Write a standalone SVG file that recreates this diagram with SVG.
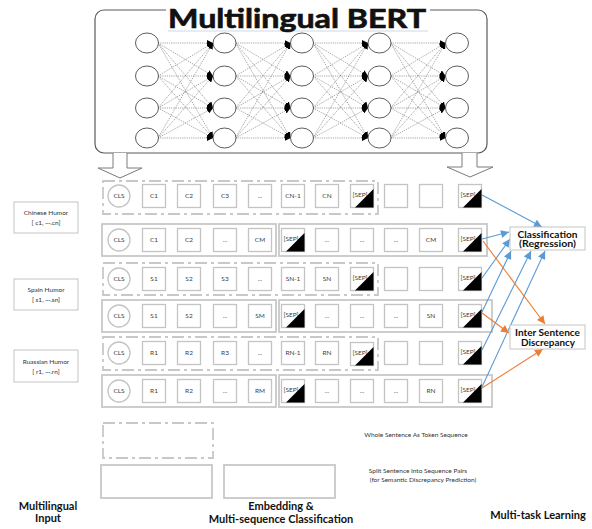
<svg xmlns="http://www.w3.org/2000/svg" xmlns:xlink="http://www.w3.org/1999/xlink" width="592" height="529" viewBox="0 0 592 529">
<style>
.tok{fill:#fff;stroke:#c4c4c4;stroke-width:1.3}
.cls{fill:#fff;stroke:#c4c4c4;stroke-width:1.3}
.tt{font-family:Lato,"Liberation Sans",sans-serif;font-size:6.5px;fill:#404040;text-anchor:middle}
.st{font-family:Lato,"Liberation Sans",sans-serif;font-size:6.5px;fill:#404040}
.dash{fill:none;stroke:#c8c8c8;stroke-width:1.8;stroke-dasharray:12,4,3,4}
.solid{fill:none;stroke:#c8c8c8;stroke-width:1.8}
.lbl{fill:#fff;stroke:#c4c4c4;stroke-width:1}
.lt{font-family:Lato,"Liberation Sans",sans-serif;font-size:6.5px;fill:#333;text-anchor:middle}
.bold{font-family:Lato,"Liberation Sans",sans-serif;font-weight:bold;fill:#111;text-anchor:middle}
.neuron{fill:#fff;stroke:#333;stroke-width:0.8}
.nn{stroke:#6a6a6a;stroke-width:0.6;stroke-dasharray:1.2,1;marker-end:url(#ah)}
.blue{stroke:#5b9bd5;stroke-width:1.1;fill:none;marker-end:url(#ab)}
.orange{stroke:#ed7d31;stroke-width:1.1;fill:none;marker-end:url(#ao)}
.sep{fill:#000}
.note{font-family:Lato,"Liberation Sans",sans-serif;font-size:6.5px;fill:#333;text-anchor:middle}
</style>
<defs>
<marker id="ah" viewBox="0 0 10 10" refX="10" refY="5" markerWidth="6" markerHeight="6" orient="auto" markerUnits="userSpaceOnUse"><path d="M0,0 L10,5 L0,10 z" fill="#000"/></marker>
<marker id="ab" viewBox="0 0 10 10" refX="10" refY="5" markerWidth="9" markerHeight="8" orient="auto" markerUnits="userSpaceOnUse"><path d="M0,0 L10,5 L0,10 z" fill="#5b9bd5"/></marker>
<marker id="ao" viewBox="0 0 10 10" refX="10" refY="5" markerWidth="9" markerHeight="8" orient="auto" markerUnits="userSpaceOnUse"><path d="M0,0 L10,5 L0,10 z" fill="#ed7d31"/></marker>
<rect id="box" x="-11.5" y="-11.5" width="23" height="23" class="tok"/>
<g id="layer">
<line class="nn" x1="158" y1="43" x2="213" y2="43"/><line class="nn" x1="158" y1="43" x2="213" y2="76"/><line class="nn" x1="158" y1="43" x2="213" y2="108"/><line class="nn" x1="158" y1="43" x2="213" y2="138"/>
<line class="nn" x1="158" y1="76" x2="213" y2="43"/><line class="nn" x1="158" y1="76" x2="213" y2="76"/><line class="nn" x1="158" y1="76" x2="213" y2="108"/><line class="nn" x1="158" y1="76" x2="213" y2="138"/>
<line class="nn" x1="158" y1="108" x2="213" y2="43"/><line class="nn" x1="158" y1="108" x2="213" y2="76"/><line class="nn" x1="158" y1="108" x2="213" y2="108"/><line class="nn" x1="158" y1="108" x2="213" y2="138"/>
<line class="nn" x1="158" y1="138" x2="213" y2="43"/><line class="nn" x1="158" y1="138" x2="213" y2="76"/><line class="nn" x1="158" y1="138" x2="213" y2="108"/><line class="nn" x1="158" y1="138" x2="213" y2="138"/>
</g>
<g id="ncol">
<ellipse class="neuron" cx="147" cy="43" rx="11.5" ry="10"/><ellipse class="neuron" cx="147" cy="76" rx="11.5" ry="10"/><ellipse class="neuron" cx="147" cy="108" rx="11.5" ry="10"/><ellipse class="neuron" cx="147" cy="138" rx="11.5" ry="10"/>
</g>
</defs>
<rect width="592" height="529" fill="#fff"/>

<g id="bert">
<rect x="95" y="10" width="392" height="143" rx="9" fill="#fff" stroke="#5a5a5a" stroke-width="1.2"/>
<use xlink:href="#layer"/>
<use xlink:href="#layer" transform="translate(77.5,0)"/>
<use xlink:href="#layer" transform="translate(155,0)"/>
<use xlink:href="#layer" transform="translate(232.5,0)"/>
<use xlink:href="#ncol"/>
<use xlink:href="#ncol" transform="translate(77.5,0)"/>
<use xlink:href="#ncol" transform="translate(155,0)"/>
<use xlink:href="#ncol" transform="translate(232.5,0)"/>
<use xlink:href="#ncol" transform="translate(310,0)"/>
<rect x="166" y="0" width="264" height="31" fill="#fff"/>
<line x1="168" y1="31" x2="428" y2="31" stroke="#dde6f2" stroke-width="1.5"/>
<text class="bold" x="297" y="27.5" font-size="27" stroke="#111" stroke-width="0.7" textLength="258" lengthAdjust="spacingAndGlyphs">Multilingual BERT</text>
<path d="M113,153 V168 H98 L120,178 L142,168 H127 V153" fill="#fff" stroke="#7a7a7a" stroke-width="1"/>
<path d="M462,153 V167 H447 L470,177 L493,167 H477 V153" fill="#fff" stroke="#7a7a7a" stroke-width="1"/>
</g>

<g id="label-chinese">
<rect class="lbl" x="14" y="202" width="64" height="31"/>
<text class="lt" x="46" y="215">Chinese Humor</text>
<text class="lt" x="46" y="225">[ c1, ···.cn]</text>
</g>
<g id="label-spain">
<rect class="lbl" x="14" y="279" width="64" height="31"/>
<text class="lt" x="46" y="292">Spain Humor</text>
<text class="lt" x="46" y="302">[ s1, ···.sn]</text>
</g>
<g id="label-russian">
<rect class="lbl" x="14" y="350" width="64" height="32"/>
<text class="lt" x="46" y="364">Ruassian  Humor</text>
<text class="lt" x="46" y="374">[ r1, ···.rn]</text>
</g>

<g id="row1">
<rect class="dash" x="103" y="181" width="275" height="33"/>
<g transform="translate(119,196)"><circle r="11" class="cls"/><text class="tt" y="2.3">CLS</text></g>
<g transform="translate(154,196)"><use xlink:href="#box"/><text class="tt" y="2.3">C1</text></g>
<g transform="translate(189,196)"><use xlink:href="#box"/><text class="tt" y="2.3">C2</text></g>
<g transform="translate(225,196)"><use xlink:href="#box"/><text class="tt" y="2.3">C3</text></g>
<g transform="translate(260,196)"><use xlink:href="#box"/><text class="tt" y="2.3">...</text></g>
<g transform="translate(293,196)"><use xlink:href="#box"/><text class="tt" y="2.3">CN-1</text></g>
<g transform="translate(327,196)"><use xlink:href="#box"/><text class="tt" y="2.3">CN</text></g>
<g transform="translate(362,196)"><use xlink:href="#box"/><text class="st" x="-9.5" y="1">[SEP]</text><polygon class="sep" points="-7,11.5 11.5,11.5 11.5,-7"/></g>
<g transform="translate(396,196)"><use xlink:href="#box"/></g>
<g transform="translate(431,196)"><use xlink:href="#box"/></g>
<g transform="translate(470,196)"><use xlink:href="#box"/><text class="st" x="-9.5" y="1">[SEP]</text><polygon class="sep" points="-7,11.5 11.5,11.5 11.5,-7"/></g>
</g>

<g id="row2">
<rect class="solid" x="102" y="224" width="174" height="32"/>
<rect class="solid" x="279" y="224" width="208" height="32"/>
<g transform="translate(119,240)"><circle r="11" class="cls"/><text class="tt" y="2.3">CLS</text></g>
<g transform="translate(154,240)"><use xlink:href="#box"/><text class="tt" y="2.3">C1</text></g>
<g transform="translate(189,240)"><use xlink:href="#box"/><text class="tt" y="2.3">C2</text></g>
<g transform="translate(225,240)"><use xlink:href="#box"/><text class="tt" y="2.3">...</text></g>
<g transform="translate(260,240)"><use xlink:href="#box"/><text class="tt" y="2.3">CM</text></g>
<g transform="translate(293,240)"><use xlink:href="#box"/><text class="st" x="-9.5" y="1">[SEP]</text><polygon class="sep" points="-7,11.5 11.5,11.5 11.5,-7"/></g>
<g transform="translate(327,240)"><use xlink:href="#box"/><text class="tt" y="2.3">...</text></g>
<g transform="translate(362,240)"><use xlink:href="#box"/><text class="tt" y="2.3">...</text></g>
<g transform="translate(396,240)"><use xlink:href="#box"/><text class="tt" y="2.3">...</text></g>
<g transform="translate(431,240)"><use xlink:href="#box"/><text class="tt" y="2.3">CM</text></g>
<g transform="translate(470,240)"><use xlink:href="#box"/><text class="st" x="-9.5" y="1">[SEP]</text><polygon class="sep" points="-7,11.5 11.5,11.5 11.5,-7"/></g>
</g>

<g id="row3">
<rect class="dash" x="103" y="263" width="275" height="32"/>
<g transform="translate(119,279)"><circle r="11" class="cls"/><text class="tt" y="2.3">CLS</text></g>
<g transform="translate(154,279)"><use xlink:href="#box"/><text class="tt" y="2.3">S1</text></g>
<g transform="translate(189,279)"><use xlink:href="#box"/><text class="tt" y="2.3">S2</text></g>
<g transform="translate(225,279)"><use xlink:href="#box"/><text class="tt" y="2.3">S3</text></g>
<g transform="translate(260,279)"><use xlink:href="#box"/><text class="tt" y="2.3">...</text></g>
<g transform="translate(293,279)"><use xlink:href="#box"/><text class="tt" y="2.3">SN-1</text></g>
<g transform="translate(327,279)"><use xlink:href="#box"/><text class="tt" y="2.3">SN</text></g>
<g transform="translate(362,279)"><use xlink:href="#box"/><text class="st" x="-9.5" y="1">[SEP]</text><polygon class="sep" points="-7,11.5 11.5,11.5 11.5,-7"/></g>
<g transform="translate(396,279)"><use xlink:href="#box"/></g>
<g transform="translate(431,279)"><use xlink:href="#box"/></g>
<g transform="translate(470,279)"><use xlink:href="#box"/><text class="st" x="-9.5" y="1">[SEP]</text><polygon class="sep" points="-7,11.5 11.5,11.5 11.5,-7"/></g>
</g>

<g id="row4">
<rect class="solid" x="102" y="300" width="174" height="32"/>
<rect class="solid" x="279" y="300" width="213" height="32"/>
<g transform="translate(119,316)"><circle r="11" class="cls"/><text class="tt" y="2.3">CLS</text></g>
<g transform="translate(154,316)"><use xlink:href="#box"/><text class="tt" y="2.3">S1</text></g>
<g transform="translate(189,316)"><use xlink:href="#box"/><text class="tt" y="2.3">S2</text></g>
<g transform="translate(225,316)"><use xlink:href="#box"/><text class="tt" y="2.3">...</text></g>
<g transform="translate(260,316)"><use xlink:href="#box"/><text class="tt" y="2.3">SM</text></g>
<g transform="translate(293,316)"><use xlink:href="#box"/><text class="st" x="-9.5" y="1">[SEP]</text><polygon class="sep" points="-7,11.5 11.5,11.5 11.5,-7"/></g>
<g transform="translate(327,316)"><use xlink:href="#box"/><text class="tt" y="2.3">...</text></g>
<g transform="translate(362,316)"><use xlink:href="#box"/><text class="tt" y="2.3">...</text></g>
<g transform="translate(396,316)"><use xlink:href="#box"/><text class="tt" y="2.3">...</text></g>
<g transform="translate(431,316)"><use xlink:href="#box"/><text class="tt" y="2.3">SN</text></g>
<g transform="translate(470,316)"><use xlink:href="#box"/><text class="st" x="-9.5" y="1">[SEP]</text><polygon class="sep" points="-7,11.5 11.5,11.5 11.5,-7"/></g>
</g>

<g id="row5">
<rect class="dash" x="103" y="337" width="275" height="33"/>
<g transform="translate(119,353)"><circle r="11" class="cls"/><text class="tt" y="2.3">CLS</text></g>
<g transform="translate(154,353)"><use xlink:href="#box"/><text class="tt" y="2.3">R1</text></g>
<g transform="translate(189,353)"><use xlink:href="#box"/><text class="tt" y="2.3">R2</text></g>
<g transform="translate(225,353)"><use xlink:href="#box"/><text class="tt" y="2.3">R3</text></g>
<g transform="translate(260,353)"><use xlink:href="#box"/><text class="tt" y="2.3">...</text></g>
<g transform="translate(293,353)"><use xlink:href="#box"/><text class="tt" y="2.3">RN-1</text></g>
<g transform="translate(327,353)"><use xlink:href="#box"/><text class="tt" y="2.3">RN</text></g>
<g transform="translate(362,354)"><use xlink:href="#box"/><text class="st" x="-9.5" y="1">[SEP]</text><polygon class="sep" points="-7,11.5 11.5,11.5 11.5,-7"/></g>
<g transform="translate(396,353)"><use xlink:href="#box"/></g>
<g transform="translate(431,353)"><use xlink:href="#box"/></g>
<g transform="translate(470,353)"><use xlink:href="#box"/><text class="st" x="-9.5" y="1">[SEP]</text><polygon class="sep" points="-7,11.5 11.5,11.5 11.5,-7"/></g>
</g>

<g id="row6">
<rect class="solid" x="102" y="375" width="174" height="32"/>
<rect class="solid" x="279" y="375" width="213" height="32"/>
<g transform="translate(119,391)"><circle r="11" class="cls"/><text class="tt" y="2.3">CLS</text></g>
<g transform="translate(154,391)"><use xlink:href="#box"/><text class="tt" y="2.3">R1</text></g>
<g transform="translate(189,391)"><use xlink:href="#box"/><text class="tt" y="2.3">R2</text></g>
<g transform="translate(225,391)"><use xlink:href="#box"/><text class="tt" y="2.3">...</text></g>
<g transform="translate(260,391)"><use xlink:href="#box"/><text class="tt" y="2.3">RM</text></g>
<g transform="translate(293,391)"><use xlink:href="#box"/><text class="st" x="-9.5" y="1">[SEP]</text><polygon class="sep" points="-7,11.5 11.5,11.5 11.5,-7"/></g>
<g transform="translate(327,391)"><use xlink:href="#box"/><text class="tt" y="2.3">...</text></g>
<g transform="translate(362,391)"><use xlink:href="#box"/><text class="tt" y="2.3">...</text></g>
<g transform="translate(396,391)"><use xlink:href="#box"/><text class="tt" y="2.3">...</text></g>
<g transform="translate(431,391)"><use xlink:href="#box"/><text class="tt" y="2.3">RN</text></g>
<g transform="translate(470,391)"><use xlink:href="#box"/><text class="st" x="-9.5" y="1">[SEP]</text><polygon class="sep" points="-7,11.5 11.5,11.5 11.5,-7"/></g>
</g>

<g id="connectors">
<line class="blue" x1="482" y1="195" x2="542" y2="227"/>
<line class="blue" x1="482" y1="239" x2="509" y2="232"/>
<line class="blue" x1="482" y1="278" x2="510" y2="239"/>
<line class="blue" x1="482" y1="312" x2="511" y2="251"/>
<line class="blue" x1="482" y1="350" x2="531" y2="251"/>
<line class="blue" x1="482" y1="387" x2="545" y2="251"/>
<line class="orange" x1="483" y1="241" x2="545" y2="324"/>
<line class="orange" x1="482" y1="313" x2="509" y2="333"/>
<line class="orange" x1="482" y1="388" x2="543" y2="349"/>
</g>

<g id="classification">
<rect class="lbl" x="510" y="227" width="75" height="23"/>
<text class="bold" x="547.5" y="237.5" font-size="9.5" textLength="60" lengthAdjust="spacingAndGlyphs">Classification</text>
<text class="bold" x="547.5" y="247" font-size="9.5" textLength="57" lengthAdjust="spacingAndGlyphs">(Regression)</text>
</g>
<g id="discrepancy">
<rect class="lbl" x="510" y="325" width="75" height="24"/>
<text class="bold" x="547.5" y="335.5" font-size="9.5" textLength="65" lengthAdjust="spacingAndGlyphs">Inter Sentence</text>
<text class="bold" x="548" y="345.5" font-size="9.5" textLength="54" lengthAdjust="spacingAndGlyphs">Discrepancy</text>
</g>

<g id="legend-whole">
<rect class="dash" x="103" y="423" width="110" height="35"/>
<text class="note" x="416" y="437">Whole Sentence As Token Sequence</text>
</g>
<g id="legend-split">
<rect class="solid" x="101" y="465" width="111" height="33"/>
<rect class="solid" x="224" y="465" width="111" height="33"/>
<text class="note" x="418" y="473">Split Sentence Into Sequence Pairs</text>
<text class="note" x="423" y="482">(for Semantic Discrepancy Prediction)</text>
</g>

<g id="captions">
<text class="bold" x="48" y="510" font-size="11">Multilingual</text>
<text class="bold" x="48" y="522" font-size="11">Input</text>
<text class="bold" x="281" y="510" font-size="11">Embedding &amp;</text>
<text class="bold" x="281" y="523" font-size="11">Multi-sequence Classification</text>
<text class="bold" x="538" y="519" font-size="11">Multi-task Learning</text>
</g>
</svg>
